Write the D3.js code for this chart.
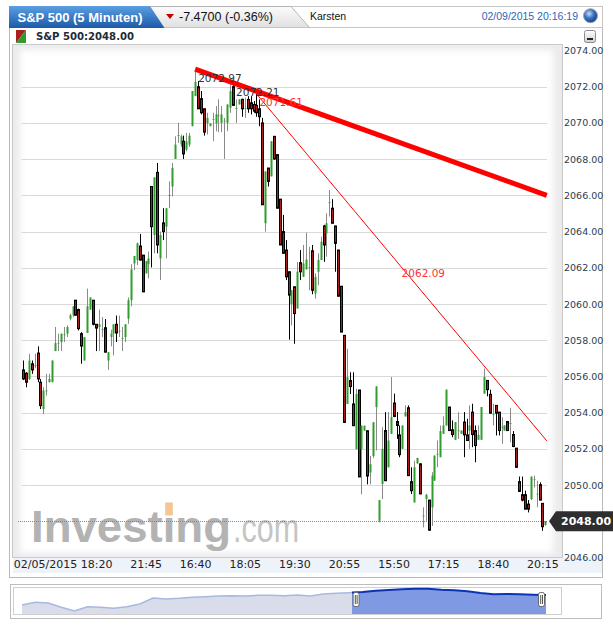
<!DOCTYPE html>
<html><head><meta charset="utf-8">
<script src="https://cdn.jsdelivr.net/npm/d3@7/dist/d3.min.js"></script>
<style>html,body{margin:0;padding:0;background:#fff;}svg{display:block;}</style>
</head><body>
<svg id="chart" width="613" height="627"></svg>
<script>
// ---------------- DATA ----------------
const opens = [2056.36,2056.18,2055.86,2056.70,2056.60,2057.29,2055.68,2054.20,2055.20,2055.68,
2055.68,2057.40,2057.84,2057.90,2058.30,2058.36,2059.19,2059.38,2060.21,2059.69,
2058.36,2056.88,2058.40,2059.69,2060.21,2058.88,2058.73,2058.60,2058.69,2056.88,
2058.17,2058.36,2058.88,2058.50,2058.10,2058.17,2059.19,2060.21,2062.24,2062.43,
2063.20,2062.70,2061.69,2062.20,2066.49,2063.81,2067.27,2062.52,2064.48,2064.27,
2066.00,2066.49,2068.01,2069.30,2068.80,2068.99,2068.53,2068.80,2069.82,2071.48,
2072.00,2071.34,2070.78,2069.97,2069.82,2070.20,2069.97,2070.40,2070.00,2070.10,
2070.00,2070.84,2072.00,2070.80,2071.02,2071.30,2070.80,2071.30,2071.11,2071.02,
2070.97,2070.78,2070.00,2064.46,2067.51,2067.05,2069.26,2068.25,2065.79,2064.00,
2062.98,2061.78,2059.99,2060.95,2059.75,2062.28,2061.50,2061.91,2062.00,2062.94,
2060.58,2061.78,2062.43,2064.31,2063.90,2065.60,2065.29,2064.31,2062.98,2060.98,
2058.27,2054.48,2055.77,2054.48,2051.98,2055.25,2051.98,2053.00,2053.00,2050.69,
2051.60,2054.31,2048.03,2050.06,2053.01,2050.98,2052.83,2054.53,2053.51,2052.77,
2052.00,2053.79,2054.27,2050.19,2049.04,2051.20,2051.17,2048.30,2049.23,2049.17,
2048.77,2050.24,2051.70,2051.54,2052.83,2053.29,2054.31,2053.05,2052.50,2053.00,
2052.83,2053.48,2052.77,2053.01,2054.03,2053.01,2052.50,2052.50,2055.05,2055.78,
2055.01,2053.90,2054.40,2054.03,2053.20,2053.01,2053.51,2053.40,2052.79,2052.04,
2050.19,2049.47,2049.47,2048.95,2049.23,2050.30,2049.50,2050.02,2048.99,2047.80];
const highs = [2056.88,2056.23,2057.25,2056.88,2057.25,2057.66,2055.86,2055.40,2056.14,2056.14,
2056.88,2058.73,2058.36,2058.36,2058.73,2058.82,2059.47,2059.87,2060.21,2059.75,
2058.45,2058.17,2060.85,2060.36,2060.21,2058.88,2059.69,2059.28,2059.17,2057.34,
2058.58,2058.88,2059.36,2059.36,2058.73,2058.88,2060.36,2062.20,2062.65,2063.39,
2063.87,2062.70,2062.37,2062.89,2066.49,2066.99,2067.79,2064.00,2065.29,2065.29,
2066.77,2067.79,2069.26,2070.00,2069.36,2069.30,2069.45,2069.45,2071.76,2072.97,
2072.31,2071.76,2070.78,2070.56,2069.97,2070.56,2070.93,2071.30,2070.93,2070.28,
2071.02,2072.13,2072.21,2071.30,2071.30,2071.34,2071.39,2071.48,2071.48,2071.21,
2071.61,2071.30,2070.28,2067.32,2067.51,2068.99,2069.26,2068.25,2065.79,2064.92,
2063.53,2061.78,2060.76,2060.95,2062.33,2062.98,2063.26,2063.94,2063.16,2063.26,
2061.69,2062.80,2063.72,2064.37,2065.01,2066.31,2065.79,2064.31,2062.98,2060.98,
2058.27,2057.53,2056.23,2056.23,2055.31,2055.25,2053.28,2053.28,2053.00,2051.61,
2053.47,2055.45,2049.17,2053.20,2054.03,2054.03,2055.97,2055.05,2054.03,2053.29,
2053.29,2054.40,2054.40,2050.98,2051.35,2051.50,2051.20,2048.77,2049.51,2049.17,
2050.71,2051.63,2052.46,2053.29,2053.79,2055.27,2054.31,2053.57,2053.48,2054.03,
2053.01,2054.03,2053.66,2054.40,2054.49,2053.29,2053.29,2054.31,2056.43,2055.78,
2055.27,2054.49,2054.40,2054.03,2053.75,2053.29,2053.51,2054.27,2052.98,2052.04,
2050.47,2050.47,2049.69,2049.17,2050.47,2050.52,2050.24,2050.15,2048.99,2048.00];
const lows = [2055.80,2055.40,2055.80,2056.14,2056.45,2055.68,2054.20,2053.92,2054.94,2055.68,
2055.68,2057.40,2057.40,2057.40,2057.90,2058.17,2059.10,2059.28,2059.38,2058.54,
2056.70,2056.88,2058.40,2059.69,2058.82,2057.40,2057.40,2058.17,2057.34,2056.36,
2057.66,2057.16,2057.90,2058.17,2057.40,2057.90,2058.91,2059.87,2061.87,2062.15,
2062.39,2060.67,2061.69,2061.41,2062.02,2062.80,2062.80,2061.32,2063.53,2062.52,
2065.29,2065.94,2068.01,2068.90,2068.67,2068.01,2068.43,2068.67,2069.82,2071.48,
2070.78,2070.47,2069.30,2069.36,2069.82,2068.99,2069.54,2069.49,2069.49,2068.01,
2069.54,2070.56,2070.97,2070.00,2071.02,2070.34,2070.28,2070.56,2070.47,2070.56,
2070.34,2069.82,2065.48,2064.00,2066.49,2067.05,2067.97,2065.29,2063.26,2062.80,
2061.32,2058.03,2058.82,2057.80,2059.75,2061.32,2061.50,2061.91,2060.76,2060.54,
2060.30,2061.04,2062.43,2062.33,2062.61,2064.83,2064.46,2061.78,2060.43,2058.45,
2053.46,2054.48,2055.03,2053.28,2051.98,2050.45,2049.49,2053.00,2050.04,2050.04,
2051.50,2051.91,2047.94,2049.23,2050.24,2050.98,2052.83,2053.75,2052.55,2051.54,
2052.00,2053.79,2050.52,2049.51,2049.04,2051.17,2049.51,2047.66,2048.03,2047.47,
2047.75,2050.24,2050.98,2051.54,2052.83,2053.29,2053.01,2052.64,2052.50,2052.55,
2052.83,2051.54,2052.46,2052.00,2052.09,2051.26,2052.50,2052.50,2055.05,2054.90,
2053.97,2053.29,2052.74,2052.74,2052.28,2053.01,2053.01,2052.37,2052.09,2050.98,
2049.65,2049.10,2048.67,2048.49,2049.17,2049.87,2048.77,2049.17,2047.47,2047.75];
const closes = [2055.86,2055.68,2056.88,2056.36,2056.62,2055.86,2054.39,2055.22,2055.22,2055.86,
2056.88,2057.84,2057.86,2058.36,2058.32,2058.73,2059.38,2059.87,2059.38,2058.64,
2057.68,2058.17,2059.87,2060.36,2058.88,2058.67,2058.88,2058.62,2057.34,2057.34,
2058.36,2058.88,2058.40,2058.52,2058.12,2058.88,2060.21,2061.91,2062.65,2063.35,
2062.43,2060.67,2062.37,2062.52,2064.27,2066.99,2063.26,2063.81,2064.00,2065.29,
2066.02,2067.51,2068.80,2069.32,2069.26,2068.29,2068.99,2069.30,2071.76,2072.26,
2070.78,2070.56,2069.49,2070.28,2069.97,2070.22,2070.47,2070.42,2070.47,2070.12,
2071.02,2071.76,2070.97,2070.82,2071.30,2070.78,2070.82,2070.78,2070.78,2070.65,
2070.56,2070.34,2065.48,2067.32,2066.77,2068.99,2068.01,2065.29,2063.26,2062.80,
2061.50,2060.49,2060.76,2059.47,2061.78,2061.78,2062.24,2062.46,2062.02,2060.76,
2061.50,2062.43,2063.44,2063.26,2064.46,2065.62,2064.46,2063.35,2060.43,2058.45,
2053.46,2055.96,2055.44,2053.28,2055.03,2050.45,2053.28,2053.28,2050.50,2051.15,
2053.47,2055.45,2049.17,2052.00,2050.24,2052.46,2053.75,2053.79,2053.29,2051.68,
2053.29,2054.03,2050.52,2049.69,2050.98,2051.50,2049.51,2048.32,2049.47,2047.51,
2050.52,2051.63,2051.72,2052.98,2053.29,2055.27,2053.01,2052.79,2053.48,2053.02,
2053.01,2052.77,2052.46,2053.29,2052.79,2052.18,2052.77,2054.31,2055.97,2055.27,
2053.97,2053.92,2053.97,2053.01,2053.22,2053.29,2053.01,2053.42,2052.13,2050.98,
2049.65,2049.17,2048.67,2048.67,2050.47,2050.32,2049.52,2049.17,2047.70,2048.00];

const tickIndex  = [25, 42, 59, 76, 93, 110, 127, 144, 161, 178];
const tickLabels = ["02/05/2015 18:20","21:45","16:40","18:05","19:30","20:55","15:50","17:15","18:40","20:15"];
const yTickValues = [2046,2048,2050,2052,2054,2056,2058,2060,2062,2064,2066,2068,2070,2072,2074];
const gridValues  = [2050,2052,2054,2056,2058,2060,2062,2064,2066,2068,2070,2072];

// trend lines: [candle index, price]
const thickTrend = [[59, 2072.97], [179.5, 2066.00]];
const thinTrend  = [[80, 2071.61], [179.5, 2052.44]];
const annotLabels = ["2072.97", "2072.21", "2071.61", "2062.09"];

// navigator (overview) series
const navValues = [2021.7,2029.5,2027.6,2014.8,2004.0,2016.7,2014.8,2011.8,2016.7,2024.6,
2042.4,2039.5,2041.4,2044.4,2046.4,2048.3,2049.3,2048.3,2050.3,2050.3,
2049.3,2051.3,2048.3,2054.3,2056.2,2058.2,2060.2,2064.1,2066.1,2068.1,
2070.1,2070.1,2067.1,2065.1,2062.2,2057.2,2053.3,2054.3,2053.3,2052.3,2051.3];
const navSelection = [25.2, 40];

const lastPrice = 2048.00;
const titleText = "S&P 500 (5 Minuten)";
const changeText = "-7.4700 (-0.36%)";
const userText = "Karsten";
const dateText = "02/09/2015 20:16:19";
const symbolText = "S&P 500:2048.00";

// ---------------- DRAW ----------------
const svg = d3.select('#chart');
const defs = svg.append('defs');
function lg(id, stops, x2 = 0, y2 = 1) {
  const g = defs.append('linearGradient').attr('id', id)
    .attr('x1', 0).attr('y1', 0).attr('x2', x2).attr('y2', y2);
  stops.forEach(([o, c]) => g.append('stop').attr('offset', o).attr('stop-color', c));
}
lg('blueTab', [[0, '#5b9fe2'], [1, '#1c5aa8']]);
lg('grayTab', [[0, '#fbfbfb'], [1, '#e1e1e1']]);
lg('btnGrad', [[0, '#ffffff'], [1, '#cfcfcf']]);
const rg = defs.append('radialGradient').attr('id', 'ball').attr('cx', '40%').attr('cy', '35%').attr('r', '65%');
rg.append('stop').attr('offset', 0).attr('stop-color', '#c9dcf5');
rg.append('stop').attr('offset', 0.5).attr('stop-color', '#3d74c4');
rg.append('stop').attr('offset', 1).attr('stop-color', '#173f86');
defs.append('filter').attr('id', 'soft').attr('x', '-5%').attr('y', '-5%').attr('width', '110%').attr('height', '110%')
  .append('feGaussianBlur').attr('stdDeviation', 3);
defs.append('clipPath').attr('id', 'plotClip').append('rect')
  .attr('x', 13).attr('y', 45).attr('width', 549).attr('height', 512);

// outer panel
svg.append('rect').attr('x', 9.5).attr('y', 27.5).attr('width', 593).attr('height', 550)
  .attr('fill', '#fff').attr('stroke', '#b9b9b9');

// header
svg.append('rect').attr('x', 9.5).attr('y', 6.5).attr('width', 593).attr('height', 21)
  .attr('fill', '#fff').attr('stroke', '#c6c6c6');
svg.append('path').attr('d', 'M150,7 L291,7 L309,27 L150,27 Z').attr('fill', 'url(#grayTab)');
svg.append('path').attr('d', 'M150,6.5 L291,6.5 L309.5,27.5').attr('fill', 'none').attr('stroke', '#b3b3b3');
svg.append('path').attr('d', 'M9,6 L150,6 L164.5,28 L9,28 Z').attr('fill', 'url(#blueTab)');
svg.append('text').attr('x', 17.5).attr('y', 21.5).text(titleText)
  .attr('font-family', 'Liberation Sans, Arial, sans-serif').attr('font-weight', 'bold')
  .attr('font-size', 13).attr('fill', '#fff').attr('textLength', 125).attr('lengthAdjust', 'spacingAndGlyphs');
svg.append('path').attr('d', 'M166,14 L174,14 L170,19 Z').attr('fill', '#c40000');
svg.append('text').attr('x', 179).attr('y', 21).text(changeText)
  .attr('font-family', 'Liberation Sans, Arial, sans-serif').attr('font-size', 12.5).attr('fill', '#111')
  .attr('textLength', 94).attr('lengthAdjust', 'spacingAndGlyphs');
svg.append('text').attr('x', 310).attr('y', 20).text(userText)
  .attr('font-family', 'Liberation Sans, Arial, sans-serif').attr('font-size', 10.5).attr('fill', '#111');
svg.append('text').attr('x', 578).attr('y', 20).attr('text-anchor', 'end').text(dateText)
  .attr('font-family', 'Liberation Sans, Arial, sans-serif').attr('font-size', 10.5).attr('fill', '#2b68b6');
svg.append('circle').attr('cx', 590.5).attr('cy', 15.7).attr('r', 7).attr('fill', 'url(#ball)')
  .attr('stroke', '#9aa6b5').attr('stroke-width', 1);

// symbol row
svg.append('path').attr('d', 'M16,30 L26,30 L16,43 Z').attr('fill', '#a82020');
svg.append('path').attr('d', 'M26,30 L26,43 L16,43 Z').attr('fill', '#2f9a2f');
svg.append('text').attr('x', 36).attr('y', 40).text(symbolText)
  .attr('font-family', 'DejaVu Sans, Verdana, sans-serif').attr('font-weight', 'bold')
  .attr('font-size', 10).attr('fill', '#1d2b3a').attr('textLength', 98).attr('lengthAdjust', 'spacingAndGlyphs');
svg.append('rect').attr('x', 584.5).attr('y', 30.5).attr('width', 11).attr('height', 12).attr('rx', 2)
  .attr('fill', 'url(#btnGrad)').attr('stroke', '#8c8c8c');
svg.append('rect').attr('x', 587).attr('y', 38).attr('width', 6).attr('height', 2).attr('fill', '#222');

// chart box
svg.append('rect').attr('x', 12.5).attr('y', 44.5).attr('width', 550).attr('height', 513)
  .attr('fill', '#ebebeb').attr('stroke', '#c9c9c9');
svg.append('rect').attr('x', 20).attr('y', 50).attr('width', 533).attr('height', 503)
  .attr('fill', '#fff').attr('filter', 'url(#soft)');
// x label band
svg.append('rect').attr('x', 13).attr('y', 558).attr('width', 589).attr('height', 15).attr('fill', '#eef2f9');

// scales
const x = d3.scaleLinear().domain([-0.5, 179.5]).range([21.5, 546.8]);
const y = d3.scaleLinear().domain([2046, 2074]).range([557.5, 50.5]);

// gridlines
svg.append('g').selectAll('line').data(gridValues).join('line')
  .attr('x1', 21.5).attr('x2', 547)
  .attr('y1', d => Math.round(y(d)) + 0.5).attr('y2', d => Math.round(y(d)) + 0.5)
  .attr('stroke', '#d9d9d9').attr('stroke-width', 1);

// watermark
const wm = svg.append('g');
const inv = wm.append('text').attr('x', 31).attr('y', 542).text('Investing')
  .attr('font-family', 'Liberation Sans, Arial, sans-serif').attr('font-weight', 'bold')
  .attr('font-size', 45).attr('fill', '#b3b3b3').attr('textLength', 200).attr('lengthAdjust', 'spacingAndGlyphs');
wm.append('text').attr('x', 233).attr('y', 542).text('.com')
  .attr('font-family', 'Liberation Sans, Arial, sans-serif')
  .attr('font-size', 40).attr('fill', '#c4c4c4').attr('textLength', 66).attr('lengthAdjust', 'spacingAndGlyphs');
try {
  const ext = inv.node().getExtentOfChar(6);
  wm.append('rect').attr('x', ext.x + ext.width * 0.2).attr('y', 502.5)
    .attr('width', ext.width * 0.6).attr('height', 13).attr('fill', '#f5c690');
} catch (e) {}

// dotted last price line
svg.append('line').attr('x1', 18).attr('x2', 547)
  .attr('y1', Math.round(y(lastPrice)) + 0.5).attr('y2', Math.round(y(lastPrice)) + 0.5)
  .attr('stroke', '#888').attr('stroke-dasharray', '1,1');

// candles
const candles = opens.map((o, i) => ({ i, o, h: highs[i], l: lows[i], c: closes[i] }));
const cg = svg.append('g').attr('clip-path', 'url(#plotClip)');
candles.forEach(d => {
  const px = Math.round(x(d.i));
  const up = d.c >= d.o;
  cg.append('line').attr('x1', px + 0.5).attr('x2', px + 0.5)
    .attr('y1', y(d.h)).attr('y2', y(d.l))
    .attr('stroke', up ? '#8a8a8a' : '#000').attr('stroke-width', 1);
  const top = y(Math.max(d.o, d.c)), bot = y(Math.min(d.o, d.c));
  if (up) {
    cg.append('rect').attr('x', px - 0.5).attr('width', 2)
      .attr('y', top).attr('height', Math.max(bot - top, 0.8)).attr('fill', '#2f9e2f');
  } else {
    cg.append('rect').attr('x', px - 0.5).attr('width', 2)
      .attr('y', top).attr('height', Math.max(bot - top, 1))
      .attr('fill', '#a81c1c').attr('stroke', '#000').attr('stroke-width', 1);
  }
});

// trend lines
const lineGen = d3.line().x(d => x(d[0])).y(d => y(d[1]));
cg.append('path').attr('d', lineGen(thinTrend)).attr('fill', 'none')
  .attr('stroke', '#ff0000').attr('stroke-width', 1);
cg.append('path').attr('d', lineGen(thickTrend)).attr('fill', 'none')
  .attr('stroke', '#ff0000').attr('stroke-width', 5);

// annotation labels
const annFont = 'DejaVu Sans, Verdana, sans-serif';
const annots = [
  { t: annotLabels[0], px: x(thickTrend[0][0]) + 3, py: y(thickTrend[0][1]) + 13, c: '#333' },
  { t: annotLabels[1], px: x(72) + 3, py: y(highs[72]) + 13, c: '#333' },
  { t: annotLabels[2], px: x(thinTrend[0][0]) + 3, py: y(thinTrend[0][1]) + 12.5, c: '#ff3333' },
  { t: annotLabels[3], px: (x(thinTrend[0][0]) + x(thinTrend[1][0])) / 2, py: (y(thinTrend[0][1]) + y(thinTrend[1][1])) / 2 + 10, c: '#ff3333' }
];
svg.append('g').selectAll('text').data(annots).join('text')
  .attr('x', d => d.px).attr('y', d => d.py).text(d => d.t)
  .attr('font-family', annFont).attr('font-size', 10.5).attr('fill', d => d.c);

// y axis (right); the last-price tick is covered by the price tag
const yAxis = d3.axisRight(y).tickValues(yTickValues.filter(v => v !== lastPrice))
  .tickFormat(d3.format('.2f')).tickSize(0).tickPadding(0);
const yg = svg.append('g').attr('transform', 'translate(564,0)').call(yAxis);
yg.select('.domain').remove();
yg.selectAll('text').attr('font-family', 'DejaVu Sans, Verdana, sans-serif').attr('font-size', 9.5)
  .attr('fill', '#2a3d4f').attr('x', 0);

// x axis
const xAxis = d3.axisBottom(x).tickValues(tickIndex).tickFormat((d, i) => tickLabels[i]).tickSize(0).tickPadding(0);
const xg = svg.append('g').attr('transform', 'translate(0,558)').call(xAxis);
xg.select('.domain').remove();
xg.selectAll('text').attr('font-family', 'DejaVu Sans, Verdana, sans-serif').attr('font-size', 11)
  .attr('fill', '#222').attr('dy', '0.95em');
xg.selectAll('.tick').filter((d, i) => i === 0).select('text')
  .attr('text-anchor', 'end').attr('x', 16);

// last price tag
const ty = y(lastPrice);
svg.append('path').attr('d', `M549,${ty} L556,${ty - 10} L613,${ty - 10} L613,${ty + 10} L556,${ty + 10} Z`)
  .attr('fill', '#2e2e2e');
svg.append('text').attr('x', 561).attr('y', ty + 4).text(d3.format('.2f')(lastPrice))
  .attr('font-family', 'DejaVu Sans, Verdana, sans-serif').attr('font-weight', 'bold')
  .attr('font-size', 11).attr('fill', '#fff');

// navigator
svg.append('rect').attr('x', 10.5).attr('y', 584.5).attr('width', 591).attr('height', 34)
  .attr('fill', '#fff').attr('stroke', '#bdbdbd');
svg.append('rect').attr('x', 13.5).attr('y', 587.5).attr('width', 548).attr('height', 27)
  .attr('fill', '#fff').attr('stroke', '#cfcfcf');
const nx = d3.scaleLinear().domain([0, navValues.length - 1]).range([22, 546]);
const ny = d3.scaleLinear().domain([1995, 2075]).range([614, 587]);
defs.append('clipPath').attr('id', 'navL').append('rect')
  .attr('x', 14).attr('y', 580).attr('width', nx(navSelection[0]) - 14).attr('height', 40);
defs.append('clipPath').attr('id', 'navR').append('rect')
  .attr('x', nx(navSelection[0])).attr('y', 580).attr('width', nx(navSelection[1]) - nx(navSelection[0]) + 1).attr('height', 40);
const navArea = d3.area().x((d, i) => nx(i)).y0(614).y1(d => ny(d));
const navLine = d3.line().x((d, i) => nx(i)).y(d => ny(d));
svg.append('path').attr('d', navArea(navValues)).attr('fill', '#d8dde9').attr('clip-path', 'url(#navL)');
svg.append('path').attr('d', navLine(navValues)).attr('fill', 'none').attr('stroke', '#a9b8e0')
  .attr('stroke-width', 1.5).attr('clip-path', 'url(#navL)');
svg.append('path').attr('d', navArea(navValues)).attr('fill', '#7f9ae2').attr('clip-path', 'url(#navR)');
svg.append('path').attr('d', navLine(navValues)).attr('fill', 'none').attr('stroke', '#0b33b5')
  .attr('stroke-width', 2).attr('clip-path', 'url(#navR)');
[nx(navSelection[0]) + 4, nx(navSelection[1]) - 4.5].forEach(hx => {
  svg.append('rect').attr('x', hx - 3).attr('y', 592.5).attr('width', 6).attr('height', 14).attr('rx', 2)
    .attr('fill', '#fff').attr('stroke', '#666');
  svg.append('line').attr('x1', hx - 0.8).attr('x2', hx - 0.8).attr('y1', 595).attr('y2', 604).attr('stroke', '#555');
  svg.append('line').attr('x1', hx + 1).attr('x2', hx + 1).attr('y1', 595).attr('y2', 604).attr('stroke', '#555');
});
</script>
</body></html>
